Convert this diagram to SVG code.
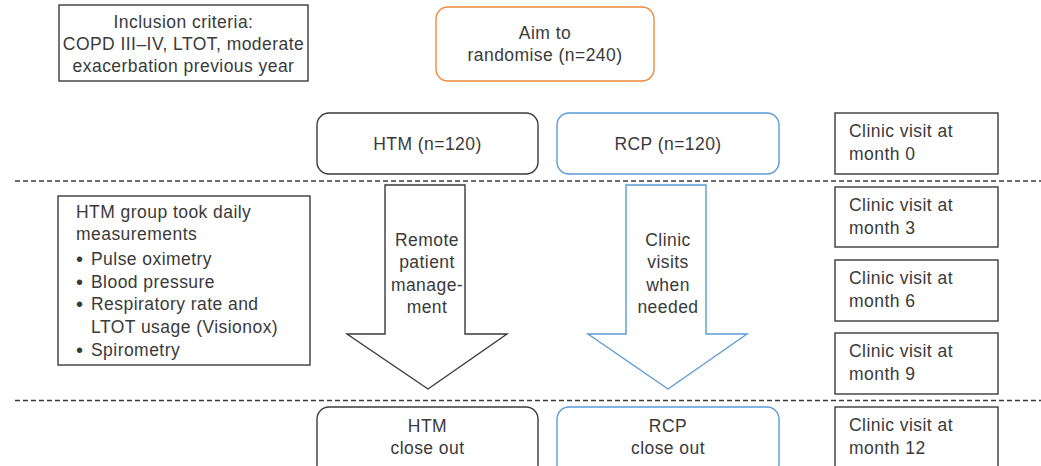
<svg xmlns="http://www.w3.org/2000/svg" width="1041" height="466" viewBox="0 0 1041 466">
<style>
text{font-family:"Liberation Sans",Arial,sans-serif;font-size:17.5px;fill:#3a3a3a;letter-spacing:0.45px}
.c{text-anchor:middle}
.b{font-size:20px}
.bk{fill:#fff;stroke:#3a3a3a;stroke-width:1.4}
.or{fill:#fff;stroke:#F0883A;stroke-width:1.4}
.bl{fill:#fff;stroke:#5B9BD5;stroke-width:1.4}
.dash{stroke:#3a3a3a;stroke-width:1.3;stroke-dasharray:5,3;fill:none}
</style>
<rect width="1041" height="466" fill="#fff"/>
<g id="connectors">
<line class="dash" x1="15" y1="181" x2="1041" y2="181"/>
<line class="dash" x1="15" y1="400.5" x2="1041" y2="400.5"/>
</g>
<g id="inclusion">
<rect class="bk" x="59" y="5" width="249" height="76"/>
<text class="c" x="183.5" y="28">Inclusion criteria:</text>
<text class="c" x="183.5" y="50">COPD III–IV, LTOT, moderate</text>
<text class="c" x="183.5" y="72">exacerbation previous year</text>
</g>
<g id="aim">
<rect class="or" x="436" y="7" width="218" height="74" rx="12"/>
<text class="c" x="545" y="39">Aim to</text>
<text class="c" x="545" y="61">randomise (n=240)</text>
</g>
<g id="htm">
<rect class="bk" x="317" y="113" width="221" height="61" rx="12"/>
<text class="c" x="427.5" y="150">HTM (n=120)</text>
</g>
<g id="rcp">
<rect class="bl" x="557" y="113" width="222" height="61" rx="12"/>
<text class="c" x="668" y="150">RCP (n=120)</text>
</g>
<g id="visit0">
<rect class="bk" x="835" y="113" width="163" height="61"/>
<text x="849" y="137">Clinic visit at</text>
<text x="849" y="160">month 0</text>
</g>
<g id="visit3">
<rect class="bk" x="835" y="187" width="163" height="60"/>
<text x="849" y="211">Clinic visit at</text>
<text x="849" y="234">month 3</text>
</g>
<g id="visit6">
<rect class="bk" x="835" y="260" width="163" height="61"/>
<text x="849" y="284">Clinic visit at</text>
<text x="849" y="307">month 6</text>
</g>
<g id="visit9">
<rect class="bk" x="835" y="333" width="163" height="61"/>
<text x="849" y="357">Clinic visit at</text>
<text x="849" y="380">month 9</text>
</g>
<g id="visit12">
<rect class="bk" x="835" y="407" width="163" height="70"/>
<text x="849" y="431">Clinic visit at</text>
<text x="849" y="454">month 12</text>
</g>
<g id="htmgroup">
<rect class="bk" x="58" y="196" width="252" height="169"/>
<text x="76" y="218">HTM group took daily</text>
<text x="76" y="240">measurements</text>
<text class="b" x="76" y="266">•</text><text x="91" y="265">Pulse oximetry</text>
<text class="b" x="76" y="289">•</text><text x="91" y="288">Blood pressure</text>
<text class="b" x="76" y="311">•</text><text x="91" y="310">Respiratory rate and</text>
<text x="91" y="333">LTOT usage (Visionox)</text>
<text class="b" x="76" y="357">•</text><text x="91" y="356">Spirometry</text>
</g>
<g id="htmarrow">
<polygon class="bk" points="385,185 465,185 465,334 507,334 428,389 347,334 385,334"/>
<text class="c" x="427" y="246">Remote</text>
<text class="c" x="427" y="268">patient</text>
<text class="c" x="427" y="291">manage-</text>
<text class="c" x="427" y="313">ment</text>
</g>
<g id="rcparrow">
<polygon class="bl" points="626,185 706,185 706,334 747,334 668,389 588,334 626,334"/>
<text class="c" x="668" y="246">Clinic</text>
<text class="c" x="668" y="268">visits</text>
<text class="c" x="668" y="291">when</text>
<text class="c" x="668" y="313">needed</text>
</g>
<g id="htmclose">
<rect class="bk" x="317" y="407" width="221" height="70" rx="12"/>
<text class="c" x="427.5" y="432">HTM</text>
<text class="c" x="427.5" y="454">close out</text>
</g>
<g id="rcpclose">
<rect class="bl" x="557" y="407" width="222" height="70" rx="12"/>
<text class="c" x="668" y="432">RCP</text>
<text class="c" x="668" y="454">close out</text>
</g>
</svg>
